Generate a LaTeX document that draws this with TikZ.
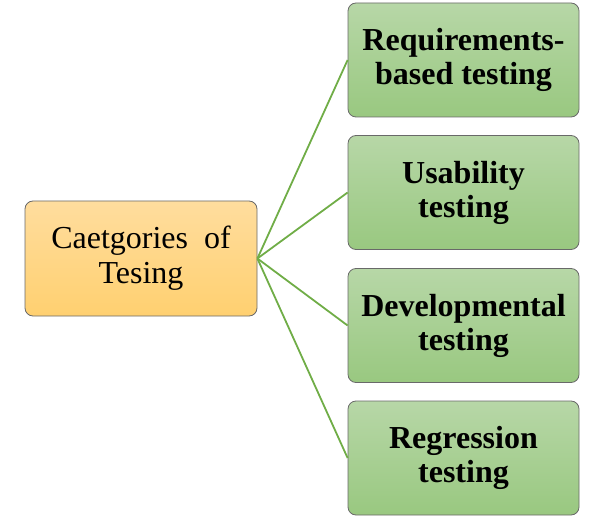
\documentclass[tikz,border=0pt]{standalone}
\usepackage{fontspec}
\setmainfont{Liberation Serif}
\usepackage{xcolor}
\usepackage{tikz}
\usetikzlibrary{positioning}

\definecolor{cattop}{RGB}{255,221,158}
\definecolor{catbot}{RGB}{255,208,112}
\definecolor{typetop}{RGB}{183,215,167}
\definecolor{typebot}{RGB}{153,200,128}
\definecolor{boxline}{RGB}{105,105,105}
\definecolor{linkgreen}{RGB}{112,173,71}

\begin{document}
\begin{tikzpicture}[x=1pt,y=-1pt]

\tikzset{catbox/.style={draw=boxline, line width=0.8pt, rounded corners=8pt,
    top color=cattop, bottom color=catbot, minimum width=232pt, minimum height=115pt,
    inner sep=0pt, align=center, font=\fontsize{32}{35}\selectfont},
  typebox/.style={draw=boxline, line width=0.8pt, rounded corners=8pt,
    top color=typetop, bottom color=typebot, minimum width=231pt, minimum height=114pt,
    inner sep=0pt, align=center, font=\fontsize{32}{34}\selectfont\bfseries},
  link/.style={draw=linkgreen, line width=1.8pt}}

\useasboundingbox (0,0) rectangle (609,518);

\node[catbox] (cat) at (141,258.5) {Caetgories\ \ of\\Tesing};

\node[typebox] (req) at (463.5,60) {Requirements-\\based testing};
\node[typebox] (usa) at (463.5,192.5) {Usability\\testing};
\node[typebox] (dev) at (463.5,325.5) {Developmental\\testing};
\node[typebox] (reg) at (463.5,458) {Regression\\testing};

\draw[link] (cat.east) -- (req.west);
\draw[link] (cat.east) -- (usa.west);
\draw[link] (cat.east) -- (dev.west);
\draw[link] (cat.east) -- (reg.west);

\end{tikzpicture}
\end{document}
